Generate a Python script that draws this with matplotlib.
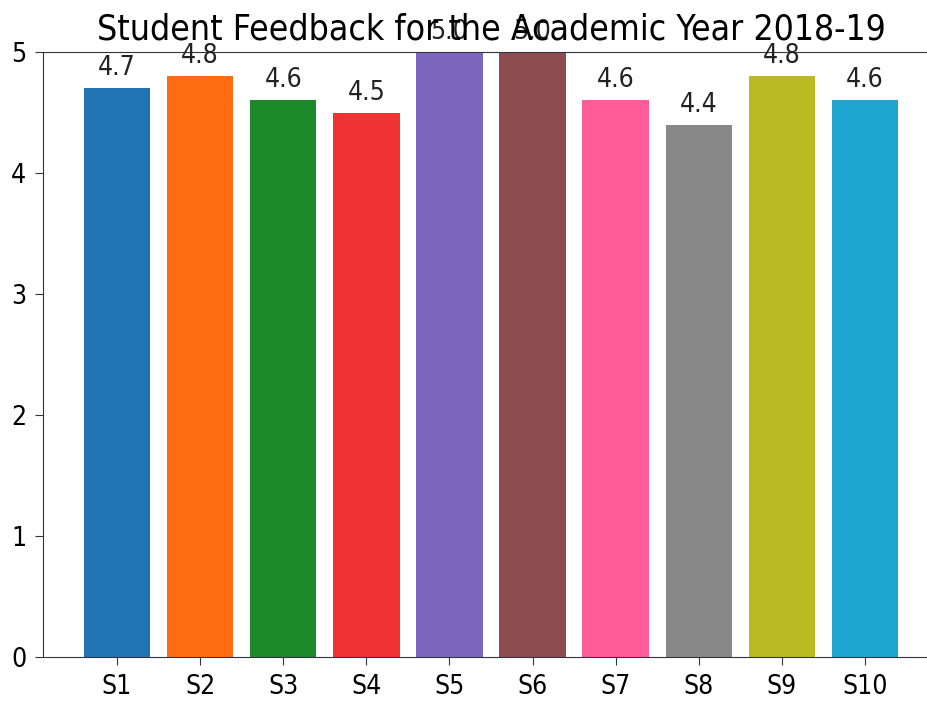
import matplotlib
matplotlib.use("Agg")
import matplotlib.pyplot as plt

categories = ["S1", "S2", "S3", "S4", "S5", "S6", "S7", "S8", "S9", "S10"]
scores = [4.7, 4.8, 4.6, 4.5, 5.0, 5.0, 4.6, 4.4, 4.8, 4.6]
colors = ["#1f74b2", "#ff6c12", "#1c8a2a", "#ef3232", "#7c66c0",
          "#8c4c50", "#ff5c98", "#888888", "#bcba22", "#1fa6d0"]
title = "Student Feedback for the Academic Year 2018-19"

plt.rcParams["font.stretch"] = "condensed"
fig = plt.figure(figsize=(9.28, 7.07), dpi=100)
ax = fig.add_axes([43 / 928, 1 - 657 / 707, (939 - 43) / 928, (657 - 52) / 707])
bars = ax.bar(categories, scores, color=colors, width=0.8)
ax.set_ylim(0, 5)
ax.set_yticks([0, 1, 2, 3, 4, 5])
for b, v in zip(bars, scores):
    ax.annotate(f"{v:.1f}", (b.get_x() + b.get_width() / 2, v),
                xytext=(0, 5), textcoords="offset points",
                ha="center", va="bottom", fontsize=19, color="#222222")
ax.tick_params(labelsize=19, length=6, pad=6, color="#333344")
for s in ax.spines.values():
    s.set_color("#333344")
ax.set_title(title, fontsize=25.5, pad=9)
fig.savefig("out.png", dpi=100)
